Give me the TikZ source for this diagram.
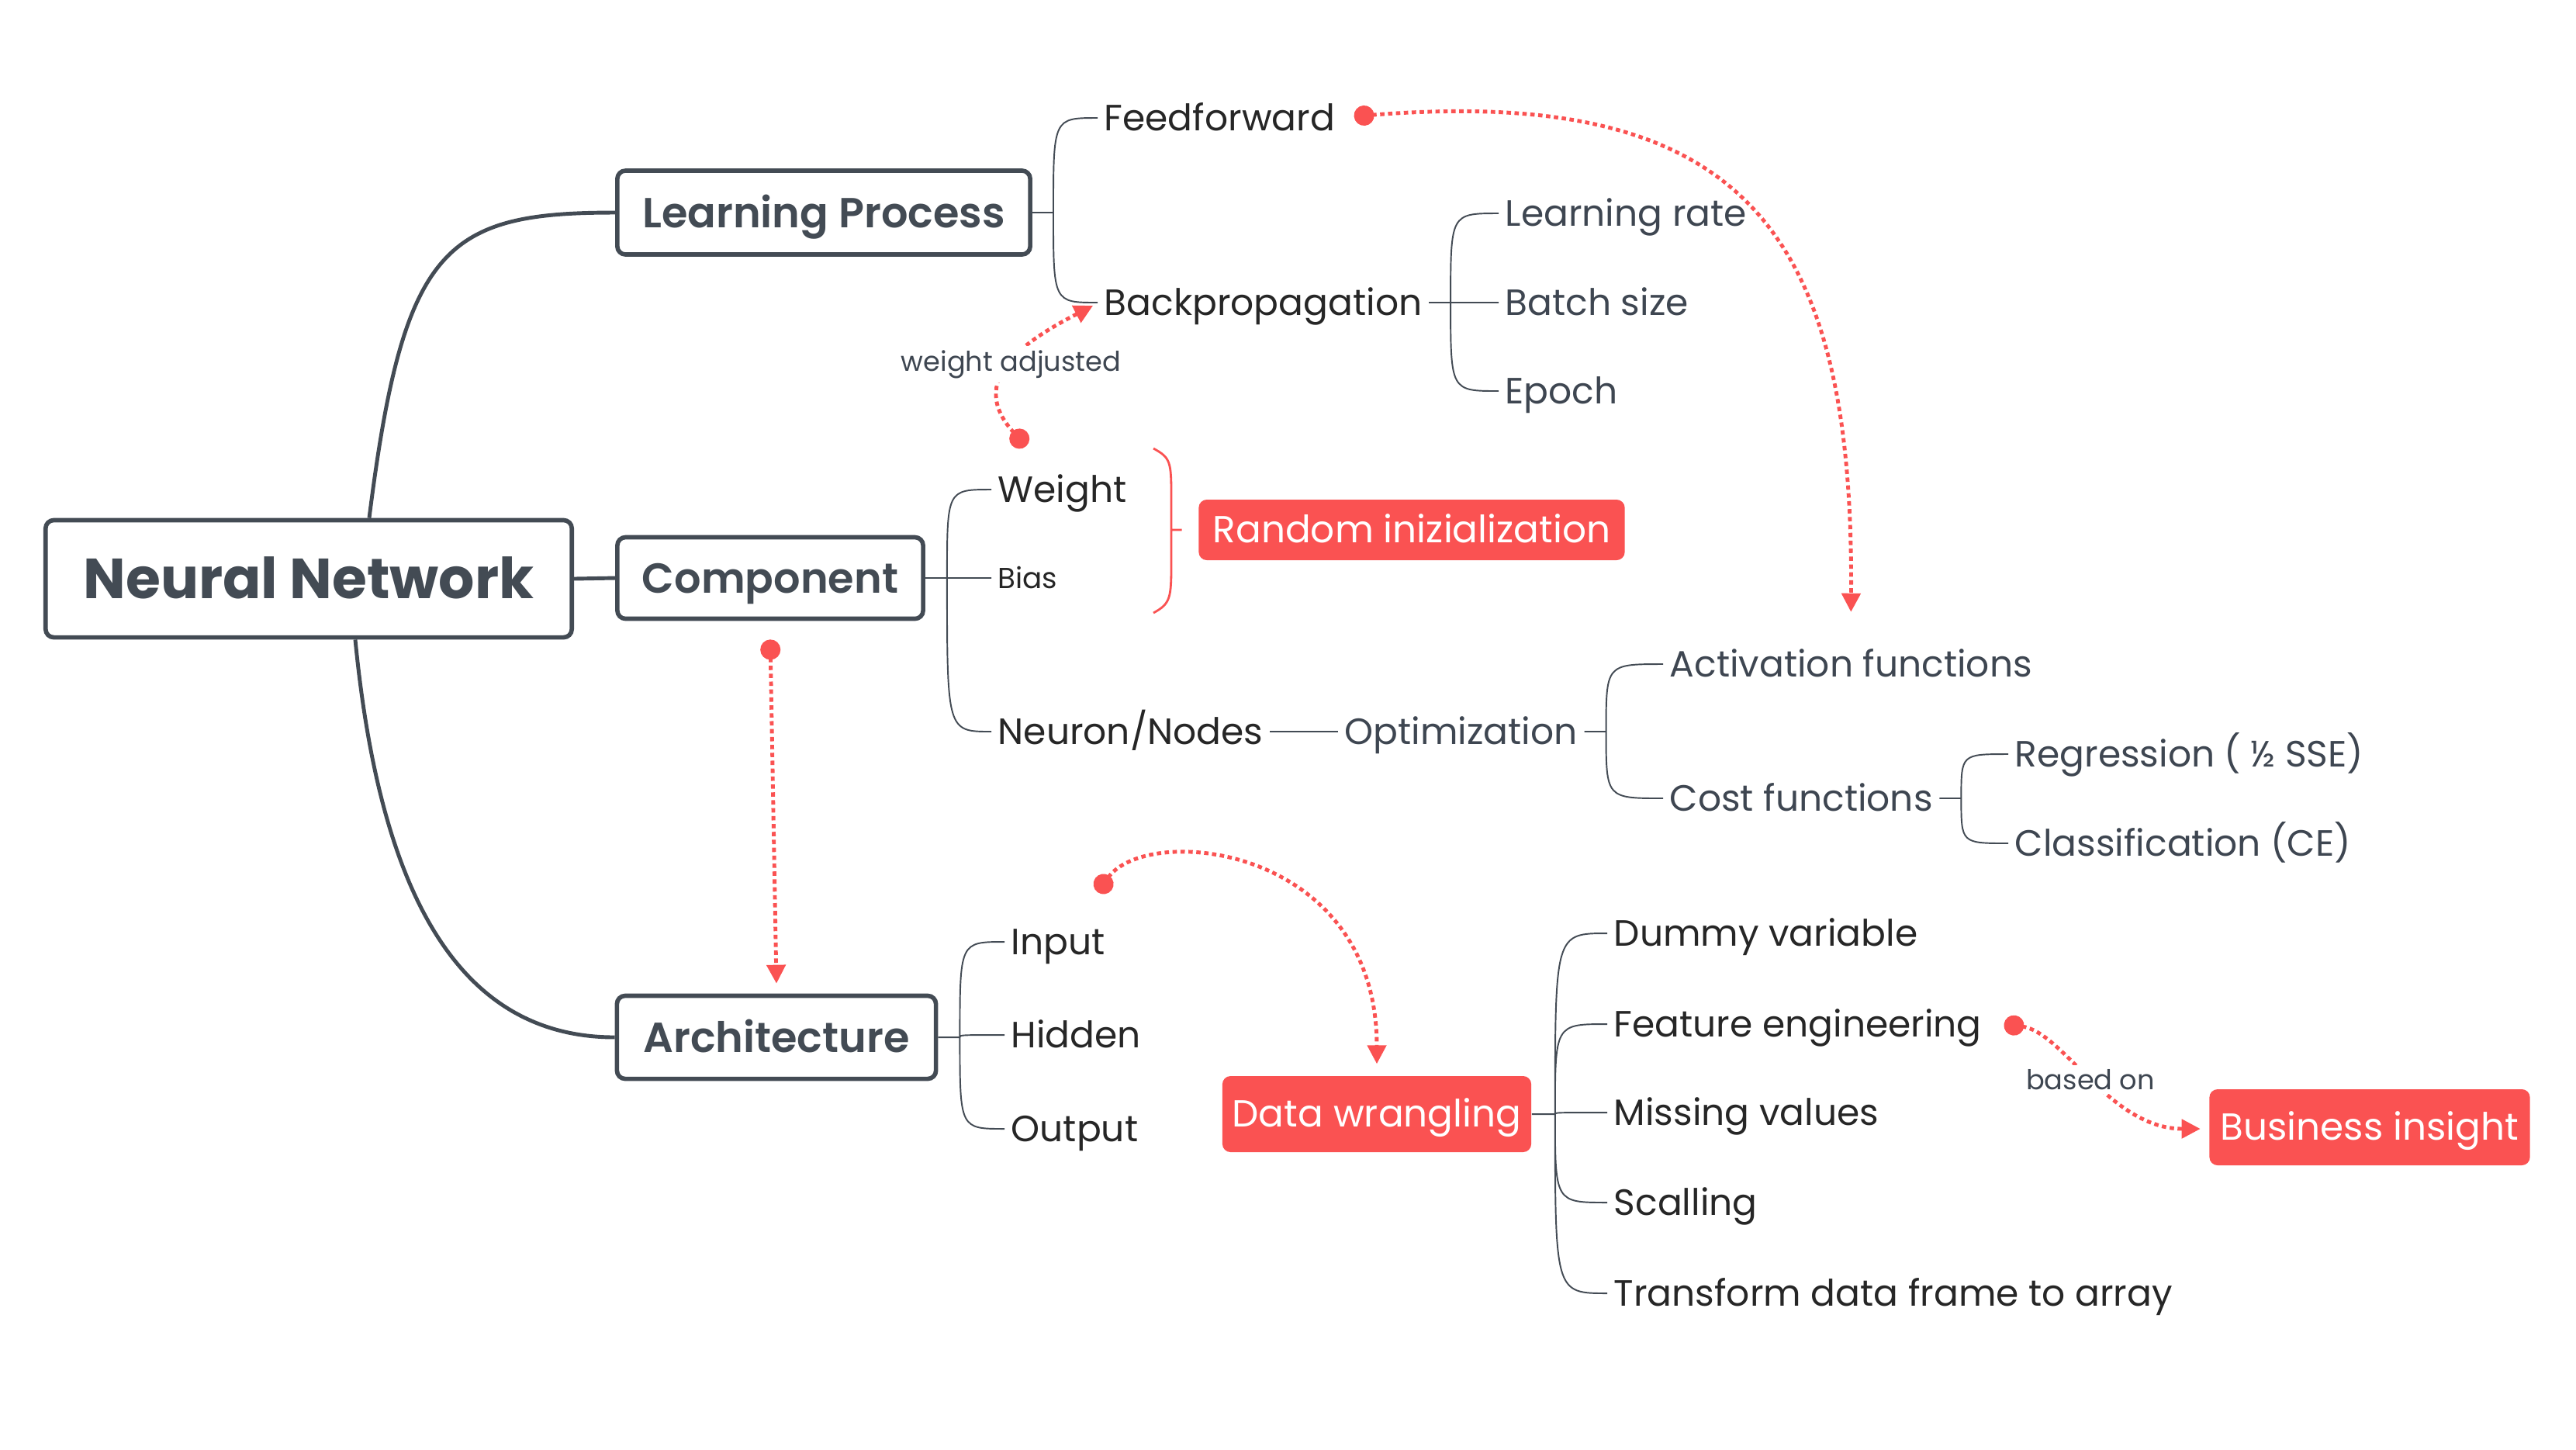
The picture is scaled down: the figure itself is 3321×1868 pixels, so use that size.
\documentclass[tikz,border=0pt]{standalone}
\usepackage{fontspec}
\setmainfont{Poppins}
\newfontfamily\boxfont{Poppins SemiBold}
\usetikzlibrary{arrows.meta,calc}
\definecolor{mmdark}{HTML}{434B54}
\definecolor{mmtext}{HTML}{262626}
\definecolor{mmsub}{HTML}{3E4651}
\definecolor{mmred}{HTML}{FA5252}
\tikzset{topic/.style={draw=mmdark, line width=1.6pt, rounded corners=3pt, fill=white,
  text=mmdark, font=\boxfont\fontsize{15.4}{17}\selectfont, inner sep=0pt,
  text height=10.8pt, text depth=0pt},
leaf/.style={anchor=west, inner xsep=0.8mm, inner ysep=0pt, text height=9.4pt,
  text depth=0pt, text=mmtext, font=\fontsize{13.4}{15}\selectfont},
subleaf/.style={leaf, text=mmsub},
redbox/.style={fill=mmred, rounded corners=3pt, text=white, text height=9.6pt, text depth=0pt,
  font=\fontsize{13.8}{15}\selectfont, minimum height=0.98cm, inner sep=0pt},
branch/.style={draw=mmdark, line width=1.4pt},
twig/.style={draw=mmdark, line width=0.55pt},
twigto/.style={to path={.. controls (\tikztostart |- \tikztotarget) .. (\tikztotarget) \tikztonodes}},
relation/.style={draw=mmred, line width=1.4pt, dash pattern=on 1.6pt off 1.3pt,
  {Circle[length=2.6mm]}-{Triangle[length=2.4mm,width=2.4mm]}},
rellabel/.style={fill=white, text=mmsub, font=\fontsize{10}{12}\selectfont, inner sep=1.5pt}}

\begin{document}
\begin{tikzpicture}[x=0.01cm, y=-0.01cm]
        \useasboundingbox (0,0) rectangle (3321,1868);

        \node[topic, font=\bfseries\fontsize{20.7}{24}\selectfont, text height=14.6pt, minimum width=6.78cm, minimum height=1.51cm] (nn) at (398,746) {Neural Network};
        \node[topic, minimum width=5.32cm, minimum height=1.08cm] (lp) at (1062,274) {Learning Process};
        \node[topic, minimum width=3.94cm, minimum height=1.05cm] (comp) at (993,745) {Component};
        \node[topic, minimum width=4.11cm, minimum height=1.07cm] (arch) at (1001,1337) {Architecture};

        \node[leaf] (ff) at (1415,152) {Feedforward};
        \node[leaf] (bp) at (1415,390) {Backpropagation};
        \node[subleaf] (lr) at (1932,275) {Learning rate};
        \node[subleaf] (bs) at (1932,390) {Batch size};
        \node[subleaf] (ep) at (1932,504) {Epoch};

        \node[leaf] (wt) at (1278,631) {Weight};
        \node[leaf, font=\fontsize{10.6}{12}\selectfont, text height=7.4pt] (bias) at (1278,745) {Bias};
        \node[leaf] (neu) at (1278,943) {Neuron/Nodes};
        \node[subleaf] (opt) at (1725,943) {Optimization};
        \node[subleaf] (act) at (2144,856) {Activation functions};
        \node[subleaf] (cost) at (2144,1029) {Cost functions};
        \node[subleaf] (reg) at (2589,972) {Regression ( ½ SSE)};
        \node[subleaf] (cls) at (2589,1087) {Classification (CE)};
        \node[redbox, minimum width=5.49cm, minimum height=0.78cm] (rnd) at (1820,683) {Random inizialization};

        \node[leaf] (inp) at (1295,1214) {Input};
        \node[leaf] (hid) at (1295,1334) {Hidden};
        \node[leaf] (outp) at (1295,1455) {Output};

        \node[redbox, minimum width=3.98cm] (dw) at (1775,1436) {Data wrangling};
        \node[leaf] (dum) at (2072,1203) {Dummy variable};
        \node[leaf] (feat) at (2072,1320) {Feature engineering};
        \node[leaf] (miss) at (2072,1434) {Missing values};
        \node[leaf] (scal) at (2072,1550) {Scalling};
        \node[leaf] (tf) at (2072,1667) {Transform data frame to array};
        \node[redbox, minimum width=4.13cm] (biz) at (3055,1453) {Business insight};

        \draw[branch] ($(nn.north)+(78,0)$) .. controls +(44,-350) and +(-220,0) .. (lp.west);
        \draw[branch] (nn.east) -- (comp.west);
        \draw[branch] ($(nn.south)+(60,0)$) .. controls +(32,330) and +(-200,0) .. (arch.west);

        \coordinate (lpf) at ($(lp.east)+(27,0)$);
        \coordinate (bpf) at ($(bp.east)+(28,0)$);
        \coordinate (compf) at ($(comp.east)+(28,0)$);
        \coordinate (optf) at ($(opt.east)+(28,0)$);
        \coordinate (costf) at ($(cost.east)+(28,0)$);
        \coordinate (archf) at ($(arch.east)+(28,0)$);
        \coordinate (dwf) at ($(dw.east)+(30,0)$);

        \draw[twig] (lp.east) -- (lpf) to[twigto] (ff.west) (lpf) to[twigto] (bp.west);
        \draw[twig] (bp.east) -- (bpf) to[twigto] (lr.west) (bpf) to[twigto] (bs.west) (bpf) to[twigto] (ep.west);
        \draw[twig] (comp.east) -- (compf) to[twigto] (wt.west) (compf) to[twigto] (bias.west) (compf) to[twigto] (neu.west);
        \draw[twig] (neu.east) -- (opt.west);
        \draw[twig] (opt.east) -- (optf) to[twigto] (act.west) (optf) to[twigto] (cost.west);
        \draw[twig] (cost.east) -- (costf) to[twigto] (reg.west) (costf) to[twigto] (cls.west);
        \draw[twig] (arch.east) -- (archf) to[twigto] (inp.west) (archf) to[twigto] (hid.west) (archf) to[twigto] (outp.west);
        \draw[twig] (dw.east) -- (dwf) to[twigto] (dum.west) (dwf) to[twigto] (feat.west) (dwf) to[twigto] (miss.west)
              (dwf) to[twigto] (scal.west) (dwf) to[twigto] (tf.west);

        \coordinate (brtop) at (1487,578);
        \coordinate (brbot) at (1487,790);
        \coordinate (brmid) at (1510,683);
        \draw[mmred, line width=0.8pt] (brtop) .. controls +(22,12) and +(0,-45) .. (1510,640) -- (1510,726)
              .. controls +(0,45) and +(22,-12) .. (brbot)
              (brmid) -- ($(rnd.west)+(-21,0)$);

        \draw[relation] ($(ff.east)+(16,-2)$) .. controls (2250,110) and (2390,300) .. ($(act.north)+(0,-50)$);
        \draw[relation] ($(wt.west)+(45,-56)$) .. controls (1245,490) and (1320,440) .. ($(bp.west)+(-6,4)$)
              node[rellabel, pos=0.5] {weight adjusted};
        \draw[relation] ($(comp.south)+(0,24)$) -- ($(arch.north)+(0,-13)$);
        \draw[relation] ($(inp.west)+(120,-64)$) .. controls (1480,1060) and (1775,1090) .. ($(dw.north)+(0,-15)$);
        \draw[relation] ($(feat.east)+(20,0)$) .. controls (2660,1330) and (2720,1455) .. ($(biz.west)+(-11,2)$)
              node[rellabel, pos=0.5] {based on};
\end{tikzpicture}
\end{document}
